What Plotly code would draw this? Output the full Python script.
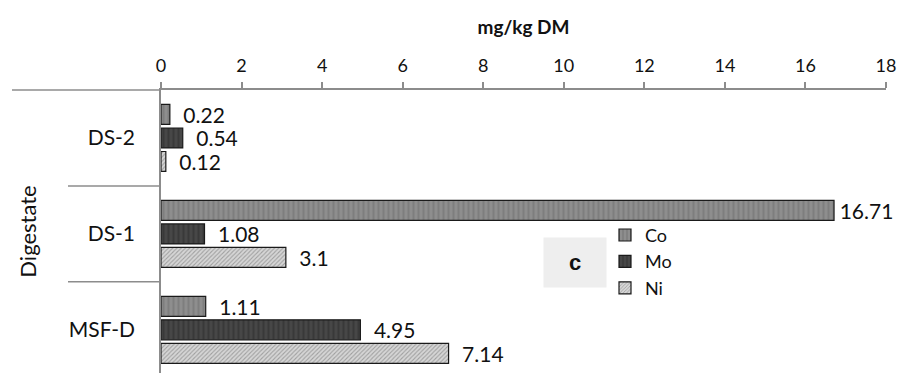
import plotly.graph_objects as go

# Trace-element content of digestates (mg/kg dry matter)
categories = ["MSF-D", "DS-1", "DS-2"]          # bottom to top
co_values = [1.11, 16.71, 0.22]
mo_values = [4.95, 1.08, 0.54]
ni_values = [7.14, 3.1, 0.12]
x_ticks = [0, 2, 4, 6, 8, 10, 12, 14, 16, 18]

FONT = "Lato, 'Open Sans', sans-serif"
AXIS_GRAY = "#8c8c8c"
X_MAX = 18

series = [
    ("Ni", ni_values, dict(bgcolor="#d6d6d6", fgcolor="#6a6a6a", shape="/", size=3, solidity=0.35)),
    ("Mo", mo_values, dict(bgcolor="#474747", fgcolor="#2c2c2c", shape="|", size=5, solidity=0.4)),
    ("Co", co_values, dict(bgcolor="#8e8e8e", fgcolor="#6e6e6e", shape="|", size=5, solidity=0.4)),
]


def label(v):
    # labels near the right edge sit closer to their bar
    gap = "\u2009" if v > 0.9 * X_MAX else "\u2002"
    return f"{gap}{v:g}"


fig = go.Figure()
for name, vals, pat in series:
    fig.add_trace(go.Bar(
        name=name,
        y=categories,
        x=vals,
        orientation="h",
        marker=dict(color=pat["bgcolor"], pattern=pat, line=dict(color="#1a1a1a", width=1.2)),
        text=[label(v) for v in vals],
        textposition="outside",
        textfont=dict(family=FONT, size=21, color="#111"),
        constraintext="none",
        cliponaxis=False,
    ))

fig.update_layout(
    width=904, height=373,
    margin=dict(l=161, r=18, t=90, b=0),
    paper_bgcolor="white", plot_bgcolor="white",
    barmode="group", bargap=0.265, bargroupgap=0.15,
    font=dict(family=FONT, size=18, color="#111"),
    showlegend=True,
    legend=dict(
        x=(605 - 161) / 725, y=0.552, xanchor="left", yanchor="top",
        traceorder="reversed",
        font=dict(family=FONT, size=18, color="#111"),
        bgcolor="rgba(0,0,0,0)", itemwidth=30, tracegroupgap=0,
    ),
    xaxis=dict(
        side="top", range=[0, X_MAX], tickvals=x_ticks,
        showgrid=False, zeroline=False,
        showline=True, linecolor=AXIS_GRAY, linewidth=1.5,
        ticks="outside", ticklen=6, tickcolor=AXIS_GRAY, tickwidth=1.5,
        ticklabelstandoff=3,
        tickfont=dict(family=FONT, size=18, color="#111"),
        title=dict(text="<b>mg/kg DM</b>", font=dict(family=FONT, size=19, color="#111"), standoff=14),
    ),
    yaxis=dict(
        type="category", categoryorder="array", categoryarray=categories,
        range=[-0.45, 2.5],
        showgrid=False, zeroline=False,
        showline=True, linecolor=AXIS_GRAY, linewidth=1.5,
        ticks="", ticklabelstandoff=20,
        tickfont=dict(family=FONT, size=21, color="#111"),
        title=dict(text="Digestate", font=dict(family=FONT, size=22, color="#111"), standoff=26),
    ),
)

# category divider lines extending left into the label column
for yb in [0.5, 1.5]:
    fig.add_shape(type="line", xref="paper", yref="y",
                  x0=-93 / 725, x1=0, y0=yb, y1=yb,
                  line=dict(color=AXIS_GRAY, width=1.5))
# top boundary line running across the label column
fig.add_shape(type="line", xref="paper", yref="paper",
              x0=-149 / 725, x1=0, y0=1, y1=1,
              line=dict(color=AXIS_GRAY, width=1.5))

# panel letter
fig.add_annotation(
    xref="paper", yref="paper", x=(575 - 161) / 725, y=(373 - 262) / 283,
    text="<b>c</b>", showarrow=False, width=60, height=47,
    bgcolor="#eeeeee", font=dict(family="Arial, sans-serif", size=22, color="#111"),
)

fig.write_html("out.html")
